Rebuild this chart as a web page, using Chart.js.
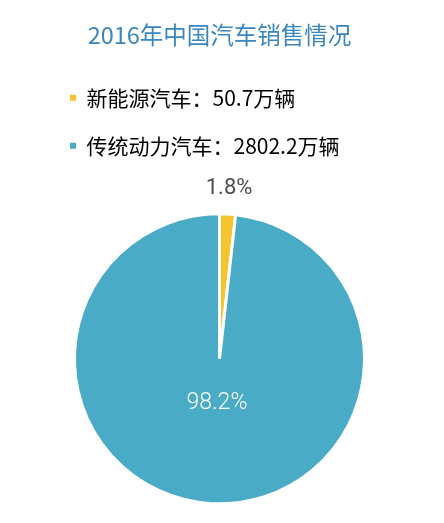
<!DOCTYPE html>
<html>
<head>
<meta charset="utf-8">
<script src="https://cdn.jsdelivr.net/npm/chart.js@4/dist/chart.umd.min.js"></script>
<style>
  html, body { margin: 0; padding: 0; background: #ffffff; }
  #wrap { position: relative; width: 444px; height: 523px; }
</style>
</head>
<body>
<div id="wrap"><canvas id="c"></canvas></div>
<script>
const titleText = '2016年中国汽车销售情况';
const categories = ['新能源汽车', '传统动力汽车'];
const salesValues = [50.7, 2802.2];
const unitLabel = '万辆';
const sliceColors = ['#f5c431', '#4aabc6'];

const total = salesValues.reduce((a, b) => a + b, 0);
const percentLabels = salesValues.map(v => (v / total * 100).toFixed(1) + '%');

const pctLabelPlugin = {
  id: 'pctLabels',
  afterDatasetsDraw(chart) {
    const ctx = chart.ctx;
    const meta = chart.getDatasetMeta(0);
    ctx.save();
    ctx.textAlign = 'center';
    ctx.textBaseline = 'middle';
    meta.data.forEach((arc, i) => {
      const p = arc.getProps(['x', 'y', 'startAngle', 'endAngle', 'outerRadius'], true);
      const mid = (p.startAngle + p.endAngle) / 2;
      const small = (p.endAngle - p.startAngle) < 0.5;
      const r = small ? p.outerRadius + 26 : p.outerRadius * 0.31;
      ctx.font = small ? '400 22px Roboto, "Liberation Sans", sans-serif' : '300 23px Roboto, "Liberation Sans", sans-serif';
      ctx.fillStyle = small ? '#4d4d4d' : '#ffffff';
      ctx.fillText(percentLabels[i], p.x + Math.cos(mid) * r, p.y + Math.sin(mid) * r);
    });
    ctx.restore();
  }
};

new Chart(document.getElementById('c'), {
  type: 'pie',
  data: {
    labels: categories,
    datasets: [{
      data: salesValues,
      backgroundColor: sliceColors,
      borderColor: '#ffffff',
      borderWidth: 3,
      radius: 145
    }]
  },
  options: {
    responsive: true,
    maintainAspectRatio: false,
    animation: false,
    events: [],
    layout: { padding: { top: 0, left: 43, right: 48, bottom: 0 } },
    plugins: {
      tooltip: { enabled: false },
      title: {
        display: true,
        text: titleText,
        color: '#3a86c0',
        font: { family: '"Noto Sans CJK SC", sans-serif', size: 23.5, weight: 'normal', lineHeight: 1.2 },
        padding: { top: 21, bottom: 11 }
      },
      subtitle: {
        display: true,
        text: '',
        weight: 500,
        position: 'top',
        font: { size: 10, lineHeight: 1 },
        padding: { top: 0, bottom: 18.5 }
      },
      legend: {
        display: true,
        position: 'top',
        align: 'start',
        labels: {
          color: '#424242',
          font: { family: '"Noto Sans CJK SC", sans-serif', size: 21 },
          boxWidth: 6,
          boxHeight: 6,
          padding: 27,
          generateLabels(chart) {
            return categories.map((c, i) => ({
              text: c + '：' + salesValues[i] + unitLabel,
              fillStyle: sliceColors[i],
              strokeStyle: sliceColors[i],
              lineWidth: 0,
              hidden: false,
              index: i
            }));
          }
        }
      }
    }
  },
  plugins: [pctLabelPlugin]
});
</script>
</body>
</html>
